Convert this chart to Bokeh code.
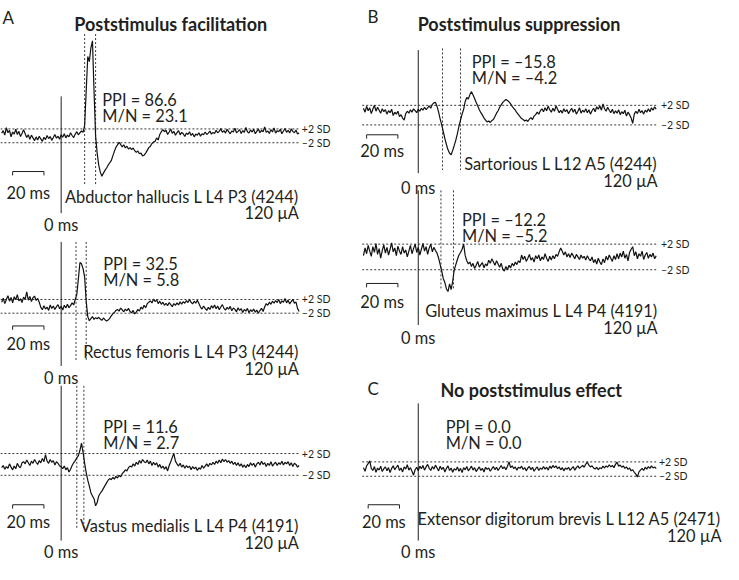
import numpy as np
from bokeh.plotting import figure
from bokeh.models import Range1d
from bokeh.core.properties import value
from bokeh.embed import file_html
from bokeh.resources import INLINE

# ---------------- data: averaged EMG, SD units about the baseline mean, 1 sample / ms ----------------
t_start_left = -38    # ms, first sample of panel A traces
t_start_right = -35   # ms, first sample of panel B / C traces

abductor = [0.8, 1.5, 0.2, 2.4, 0.9, 1.6, -0.3, 1.1, 0.5, 1.9, 0.4, 1.3, -0.2, 0.7, 1.8, 0.6, -0.5, 0.3, -1.0, 0.2,
            -0.6, -1.4, -0.3, -1.2, -0.1, -0.9, -1.6, -0.4, -1.1, 0.1, -0.8, -0.2, -1.3, -0.5, 0.4, -0.7, -0.1, -1.0,
            0.3, -0.4, 0.6, -0.6, 0.2, -0.3, 0.9, 0.1, -0.5, 0.5, 1.2, 0.3, 0.9, 1.4,
            1.0, 3.0, 13.0, 23.0, 21.5, 25.5, 27.5, 13.0, 0.0, -5.0, -8.5, -10.5, -11.7, -10.8, -10.0, -9.3, -8.5,
            -7.8, -7.2, -5.8, -4.5, -3.3, -2.6, -1.9, -2.5, -3.2, -2.6, -3.5, -3.0, -3.8, -3.4, -4.0, -3.5, -4.3,
            -4.8, -4.4, -5.2, -5.0, -5.8, -5.6, -5.0, -4.2, -3.4, -3.0, -2.2, -1.8, -1.6, -0.6, -1.2, 0.4, 1.2, 1.8, 1.2,
            1.6, 0.4, 1.1, 2.0, 0.7, 1.3, 0.2, 0.9, 1.5, 0.3, 1.0, 0.6, -0.2, 0.8, 0.4, 1.2, 0.1, 0.7, -0.3, 0.5,
            0.2, 0.9, -0.1, 0.6, 0.3, 1.1, 0.4, 0.8, 1.4, 0.5, 1.0, 0.7, 1.6, 0.9, 1.3, 2.1, 1.0, 1.5, 0.8, 1.9,
            1.2, 0.6, 1.4, 1.1, 2.2, 0.9, 1.3, 1.8, 0.7, 1.5, 1.0, 2.4, 1.2, 0.8, 1.7, 1.1, 1.9, 0.6, 1.3, 2.0,
            0.9, 1.6, 1.2, 2.6, 1.0, 1.4, 0.7, 1.8, 1.1, 2.3, 0.8, 1.5, 1.2, 1.9, 0.6, 1.4, 2.1, 1.0, 1.6, 0.8,
            2.0, 1.3, 0.9, 1.7, 0.5, 0.9]

rectus = [1.2, 2.4, 0.8, 2.0, 3.1, 1.5, 2.6, 1.0, 2.8, 1.9, 3.4, 1.6, 2.2, 1.1, 2.7, 2.0, 4.2, 1.8, 2.9, 1.4,
          2.5, 3.0, 1.7, 2.3, 1.2,
          -0.3, -1.0, 0.2, -0.8, -0.2, -1.2, 0.4, -0.6, 0.1, -0.9, -0.1, 0.5, -0.7, 0.0, -1.1, 0.3, -0.5, 0.6,
          -0.4, 0.2, 1.0, 0.4,
          2.0, 3.5, 8.0, 12.8, 12.4, 11.0, 8.5, 1.5, -3.0, -4.2, -3.6, -3.0, -3.8, -3.3, -3.6,
          -3.2, -3.7, -4.1, -3.4, -3.9, -4.3, -4.0, -3.5, -2.8, -2.2, -1.8, -1.2,
          -0.9, -1.4, -0.5, -1.0, -1.6, -0.8, -1.3, -0.6, -1.5, -1.9, -1.2, -2.2, -1.7, -0.9, -1.4, -0.2, -0.8,
          0.3, -0.4, 0.8, 1.2,
          1.6, 1.0, 2.1, 1.4, 1.9, 0.8, 1.5, 0.6, 1.2, 0.3, 0.9, 0.2, 1.1, 0.5, -0.1, 0.8, 0.3, 1.0, 0.4, 1.3,
          0.6, 1.4, 0.9, 1.7, 1.1, 2.0, 1.2, 0.7, 1.5, 0.9, 1.8, 0.8, -0.2, -0.8, 0.1, -0.6, -1.2, -0.3, -0.9, 0.2,
          -0.5, 0.4, -0.7, 0.1, -1.0, -0.2, 0.5, -0.6, -1.1, -0.3, -0.8, 0.0, -1.3, -0.5, -0.9, -1.6, -0.4, -1.2,
          -0.7, -1.8, -0.9, -1.4, -0.6, -1.9, -1.0, -1.5, -0.8, -1.7, -1.1, -2.0, -1.2, -0.6, -1.5, -0.2, 0.8, 0.3,
          1.2, 0.6, 1.5, 0.9, 1.7, 1.1, 2.0, 0.8, 1.6, 1.2, 2.3, 1.0, 1.8, 0.7, 1.4, 2.0, 0.9, 1.3, -0.6, -1.5]

vastus = [-0.6, -0.2, -0.9, -0.4, -0.7, 0.1, -0.5, -1.0, -0.3, -0.8, 0.2, -0.4, -0.6, 0.3,
          0.5, 0.1, 0.8, 0.3, -0.2, 0.6, 0.2, 0.9, 0.4, 0.0, 0.7, 0.3, 1.1, 0.5, 1.8, 0.6, 0.2, 0.9, 0.4, 0.7,
          -0.1, 0.5, 0.2, -0.3,
          -0.4, -0.8, -0.3, -1.0, -0.6, -1.4, -0.9, -0.2, 0.3, 0.7,
          1.2, 1.6, 2.6, 3.9, 2.2, 0.2, -1.5,
          -2.9, -4.0, -5.2, -5.8, -6.3, -7.6, -7.0, -5.8, -5.3, -4.9, -4.4, -3.9, -3.4, -2.9, -2.6, -2.8,
          -2.4, -2.7, -2.2, -2.5, -2.0, -2.3, -1.7, -1.4, -1.0, -1.2, -0.6, -0.3, -0.5,
          0.1, -0.3, 0.4, 0.0, 0.7, 0.2, 0.9, 0.5, 0.3, 0.8, 0.1, 0.6, -0.2, 0.4, -0.1, 0.3, -0.5, 0.0, -0.7, -0.3,
          -0.9, -0.4, -1.2, -0.2, 0.5, 1.3, 2.0, 0.6, 0.1, -0.3, 0.2, -0.5, -0.1, -0.7, -0.2, -0.6, -0.3, -1.0,
          -0.4, -0.8, -0.5, -1.1, -0.6, -0.9, -0.2, -0.7, -0.3, 0.1, -0.4, 0.2, -0.1, 0.4, 0.0, 0.6, 0.2, 0.8,
          0.3, 1.0, 0.5, 0.9, 0.4, 0.7, 0.2, 0.6, 0.0, 0.4, -0.2, 0.3, -0.3, 0.1, -0.5, -0.1, -0.6, 0.0, -0.4,
          0.3, -0.2, 0.2, -0.5, 0.1, 0.4, -0.1, 0.6, 0.0, 0.3, -0.4, 0.2, -0.2, 0.5, -0.3, 0.1, 0.4, -0.2, 0.3,
          0.0, 0.6, -0.1, 0.4, 0.1, 0.5, -0.2, 0.3, -0.4, 0.2, 0.0, -0.5, -0.2]

sartorius = [1.4, 0.6, 1.8, 0.9, 1.5, 0.3, 1.2, 2.0, 0.8, 1.6, 1.0, 0.4, 1.3, 0.7, 1.1, 0.2, 0.9, 0.5, 1.2, -0.1,
             0.6, 0.2, 0.8, -0.3, 0.1, -0.6, -1.0,
             0.3, 0.8, 0.4, 1.1, 0.6, 1.3, 0.9, 0.5, 1.2, 0.8, 1.4, 1.0, 1.6, 1.1, 1.5, 1.9, 1.4, 2.2, 2.5,
             2.6, 1.8, 0.6, -0.8, -2.0, -3.4, -4.8, -6.0, -7.1, -7.8, -8.1, -7.2, -6.2, -5.1, -3.8, -2.3, -1.0,
             0.2, 1.2, 2.8, 3.6, 3.3, 4.2, 4.8, 4.1, 3.4, 2.6, 1.9, 1.1, 0.5, 0.0, -0.6, -1.0, -1.4,
             -1.2, -1.5, -1.1, -0.9, -0.3, 0.4, 0.9, 1.6, 2.1, 2.6, 2.9, 3.2, 3.0, 2.7, 2.3, 1.8, 1.4, 1.0, 0.5,
             0.1, -0.3, -0.7, -0.9, -1.2, -1.0, -1.3, -0.8, -0.5, -0.9, -0.2, 0.1,
             0.6, 0.2, 0.9, 1.3, 0.7, 1.5, 0.9, 1.8, 1.1, 0.6, 1.4, 0.8, 1.9, 1.2, 0.5, 1.0, 0.4, 1.3, 0.7, 1.1,
             0.3, 0.9, 1.4, 0.6, 1.2, 0.2, 0.8, 1.5, 0.4, 1.0, 0.6, 1.3, 0.5, 1.1, 0.2, 0.9, 1.4, 0.7, 1.7, 1.2,
             1.9, 1.0, 2.3, 1.3, 0.8, 1.6, 1.0, 0.5, 1.2, 0.3, 0.9, 0.4, 1.1, 0.1, 0.7, 0.3, 1.0, -0.2, 0.6, 0.1,
             -0.6, -1.7, 0.2, 0.8, 0.3, 1.2, 0.5, 0.9, 0.2, 1.0, 0.6, 1.3, 0.7, 1.5, 1.0, 1.7, 1.2]

gluteus = [0.2, 1.4, 0.5, 1.8, 0.9, 0.1, 1.6, 0.7, 2.1, 0.4, 1.3, -0.2, 1.0, 1.9, 0.6, 1.5, 0.3, 1.2, 2.2, 0.8,
           1.4, 0.2, 1.7, 0.9, 0.4, 1.6, 0.6, 1.1, 0.0, 0.9, 1.8, 0.5, 1.3, 2.0, 0.7, 1.5, 0.3, 1.2, 2.1, 0.9,
           1.6, 0.4, 1.4, 2.0, 0.8, 1.5, 1.0, 0.6,
           -0.2, -1.2, -2.2, -3.4, -4.0, -5.0, -5.4, -4.2, -5.1, -3.8, -2.0, -1.2, -0.4, 0.3, 0.7, 1.2, 2.0, 0.2,
           -0.6, -1.1, -0.8, -1.5, -1.0, -1.8, -1.3, -0.7, -1.6, -1.2, -0.9, -1.7, -1.1, -1.4, -0.5, -1.0, -0.3,
           -0.8, -1.3, -0.6, -1.1, -1.6, -1.0, -1.9, -2.2, -1.5, -2.0, -1.3, -1.7, -1.0, -1.4, -0.8, -1.2, -0.6, -0.9,
           0.3, -0.4, 0.1, -0.7, -0.2, 0.4, -0.5, -0.1, -0.8, 0.2, -0.3, 0.3, -0.6, 0.0, -0.4, 0.5, -0.2, -0.7,
           0.1, -0.5, 0.2, -0.3, 0.4, 0.1, 0.8, 1.4, 0.9, 0.3, 0.8, 0.0, 0.5, -0.1, 0.6, 0.2, -0.3, 0.4, 0.0,
           -0.4, 0.3, -0.2, 0.1, -0.5, 0.2, -0.3, -0.6, 0.0, -0.9, -0.4, -1.1, -0.2, -0.8, -1.2, -0.3, -0.9, 0.1,
           -0.5, 0.3, -0.2, -0.7, 0.2, -0.4, 0.5, -0.3, 0.6, 0.0, 0.9, -0.2, 0.4, -0.6, 0.7, 1.2, 1.6, 0.2, 0.8,
           -0.3, 0.5, 0.1, 0.9, -0.4, 0.3, 0.7, -0.2, 0.4, 0.0, 0.6, -0.3, 0.2]

extensor = [0.4, -0.6, 0.9, 1.5, 2.3, 0.2, -0.4, 0.7, -0.9, 0.3, -0.3, 0.8, -0.7, 0.1, 0.6, -0.5, 0.4, -1.0, 0.2, 0.9,
            -0.2, 0.5, 1.1, -0.4, 0.3, -0.8, 0.6, 0.0, 1.2, -0.3, 0.4, -0.6, -1.7, -0.2, 0.5, -0.5, 0.8, 0.1, 1.0, -0.3,
            0.6, 1.3, 0.2, -0.4, 0.7, 0.0, 1.1, 0.3, -0.5, 0.8, -0.1, 0.5, -0.8, 0.2, 0.9, -0.4, 0.3, -0.9, 0.1, -0.3,
            0.6, -0.6, 0.2, -1.0, 0.4, -0.2, 0.7, -0.5, 0.1, 0.8, -0.3, 0.4, -0.7, 0.0, 0.6, -0.4, 0.2, -0.8, 0.5, -0.1,
            0.3, -0.6, 0.1, 0.7, -0.2, 0.5, -0.4, 0.3, 1.0, 0.1, 0.6, -0.2, 0.8, 2.0, 0.4, 0.9, 0.1, 0.6, -0.3, 0.5,
            0.2, 0.8, -0.1, 0.4, -0.5, 0.3, 0.7, -0.2, 0.5, -0.6, 0.1, 0.6, -0.4, 0.3, -0.1, 0.7, 0.0, 0.5, -0.3, 0.8,
            0.2, 1.0, 0.4, 0.9, 0.1, 0.6, -0.2, 0.4, -0.5, 0.3, -0.1, 0.5, -0.4, 0.2, 0.7, -0.3, 0.4, 0.9, 0.2, 0.6,
            1.0, 0.5, 1.4, 1.9, 1.1, 0.6, 0.9, 0.3, 0.0, 0.5, -0.2, 0.4, 0.1, 0.8, 0.3, 0.9, 0.5, 1.2, 0.6, 1.0,
            0.4, 1.3, 1.9, 0.8, 1.1, 0.5, 0.9, 0.2, 0.6, -0.1, 0.3, -0.5, -0.2, -0.9, -1.4, -2.2, -0.8, -0.3, 0.2, -0.4,
            0.5, 0.0, 0.7, 0.2, 0.9, 0.3, 0.6, 0.1]

muscles = ["Abductor hallucis L L4 P3 (4244)", "Rectus femoris L L4 P3 (4244)",
           "Vastus medialis L L4 P4 (4191)", "Sartorious L L12 A5 (4244)",
           "Gluteus maximus L L4 P4 (4191)", "Extensor digitorum brevis L L12 A5 (2471)"]
ppi_values = ["86.6", "32.5", "11.6", "\u201315.8", "\u201312.2", "0.0"]
mn_values = ["23.1", "5.8", "2.7", "\u20134.2", "\u20135.2", "0.0"]
stim_windows = [(15, 22), (9.5, 16), (10, 14.5), (15.5, 27), (14.5, 22.5), None]
current_label = "120 \u00b5A"
sd_levels = [2, -2]
sd_labels = ["+2 SD", "\u20132 SD"]
scale_bar_ms = 20
section_letters = ["A", "B", "C"]
section_titles = ["Poststimulus facilitation", "Poststimulus suppression", "No poststimulus effect"]

# ---------------- layout (reference-pixel canvas, 739 wide) ----------------
W, H = 739, 588
PX_PER_MS = 1.6
col_zero = {"L": 62.0, "R": 427.0}

p = figure(width=723, height=564, x_range=Range1d(0, W), y_range=Range1d(H, 0),
           output_backend="svg", toolbar_location=None, min_border=0,
           x_axis_type=None, y_axis_type=None, background_fill_color="white")
p.grid.visible = False
p.outline_line_color = None
p.extra_x_ranges = {c: Range1d((0 - z) / PX_PER_MS, (W - z) / PX_PER_MS) for c, z in col_zero.items()}

FONT = value("Lato")
INK = "#231f20"
BIG = "16.4px"
TITLE = "18px"
SMALL = "10.5px"


def label(x, y, s, size=BIG, align="left", baseline="alphabetic", bold=False, xr="default", yr="default"):
    p.text(x=[x], y=[y], text=[s], text_font=FONT, text_font_size=size, text_align=align,
           text_baseline=baseline, text_font_style="bold" if bold else "normal", text_color=INK,
           x_range_name=xr, y_range_name=yr)


panels = [
    dict(col="L", t0=t_start_left, vals=abductor, sd_px=(133.9, 148.3), ppi_xy=(104, 102.7), name_xy=(305, 204),
         zero_y=(100, 221.7), zero_lbl=233.3, stim_y=(35, 192), bar=(-31, 178.3, 200), sd_lbl_x=308),
    dict(col="L", t0=t_start_left, vals=rectus, sd_px=(311.7, 326.0), ppi_xy=(105, 274), name_xy=(305, 365.7),
         zero_y=(251.7, 381), zero_lbl=393.3, stim_y=(251.7, 375), bar=(-31, 339.3, 358), sd_lbl_x=308),
    dict(col="L", t0=t_start_left, vals=vastus, sd_px=(472.3, 495.0), ppi_xy=(105, 444), name_xy=(305, 547.7),
         zero_y=(401.7, 563), zero_lbl=574.5, stim_y=(401.7, 550), bar=(-31, 525.7, 543.3), sd_lbl_x=308),
    dict(col="R", t0=t_start_right, vals=sartorius, sd_px=(109.3, 129.7), ppi_xy=(481.7, 63.3),
         name_xy=(671.7, 170), zero_y=(51.7, 180), zero_lbl=195, stim_y=(50, 176.7), bar=(-33, 140, 156.7),
         sd_lbl_x=675),
    dict(col="R", t0=t_start_right, vals=gluteus, sd_px=(254.0, 280.7), ppi_xy=(471.7, 228.3),
         name_xy=(671.7, 323.3), zero_y=(198, 338.3), zero_lbl=351.7, stim_y=(198, 301.7), bar=(-33, 295, 313.3),
         sd_lbl_x=675),
    dict(col="R", t0=t_start_right, vals=extensor, sd_px=(481.0, 496.0), ppi_xy=(455, 444),
         name_xy=(737, 540), zero_y=(420, 563), zero_lbl=574.5, stim_y=None, bar=(-32, 525.7, 542.7),
         sd_lbl_x=673),
]

for i, pn in enumerate(panels):
    yr = f"P{i}"
    top, bot = pn["sd_px"]
    mid = (top + bot) / 2
    k = (bot - top) / (sd_levels[0] - sd_levels[1])
    p.extra_y_ranges[yr] = Range1d((mid - H) / k, mid / k)
    xr = pn["col"]
    vals = np.array(pn["vals"], dtype=float)
    t = pn["t0"] + np.arange(len(vals))

    # ±2 SD dotted lines and labels
    for lev, txt in zip(sd_levels, sd_labels):
        p.line([t[0] - 0.8, t[-1]], [lev, lev], x_range_name=xr, y_range_name=yr,
               line_color=INK, line_width=0.9, line_dash="2 2")
        label(pn["sd_lbl_x"], lev, txt, size=SMALL, baseline="middle", yr=yr)

    # stimulus window dotted verticals
    if stim_windows[i] is not None:
        y0, y1 = pn["stim_y"]
        for ts in stim_windows[i]:
            p.line([ts, ts], [y0, y1], x_range_name=xr, line_color=INK, line_width=0.9, line_dash="2 2")

    # 0 ms line
    zy0, zy1 = pn["zero_y"]
    p.line([0, 0], [zy0, zy1], x_range_name=xr, line_color=INK, line_width=1.0)
    label(0, pn["zero_lbl"], "0 ms", align="center", xr=xr)

    # trace
    p.line(t, vals, x_range_name=xr, y_range_name=yr, line_color="#111111", line_width=1.2)

    # scale bar
    b0, by, bl = pn["bar"]
    p.line([b0, b0, b0 + scale_bar_ms, b0 + scale_bar_ms], [by + 4, by, by, by + 4], x_range_name=xr,
           line_color=INK, line_width=1.0)
    label(b0 + scale_bar_ms / 2, bl, f"{scale_bar_ms} ms", align="center", xr=xr)

    # statistics and muscle labels
    px_, py_ = pn["ppi_xy"]
    label(px_, py_, f"PPI = {ppi_values[i]}")
    label(px_, py_ + 16.7, f"M/N = {mn_values[i]}")
    nx, ny = pn["name_xy"]
    label(nx, ny, muscles[i], align="right")
    label(nx, ny + 17.5, current_label, align="right")

# section letters and titles
label(2, 18, section_letters[0], size="17px")
label(174, 24, section_titles[0], size=TITLE, bold=True, align="center")
label(375, 16.7, section_letters[1], size="17px")
label(530, 24, section_titles[1], size=TITLE, bold=True, align="center")
label(375, 404, section_letters[2], size="17px")
label(542.5, 406, section_titles[2], size=TITLE, bold=True, align="center")

open("out.html", "w").write(file_html(p, INLINE))
